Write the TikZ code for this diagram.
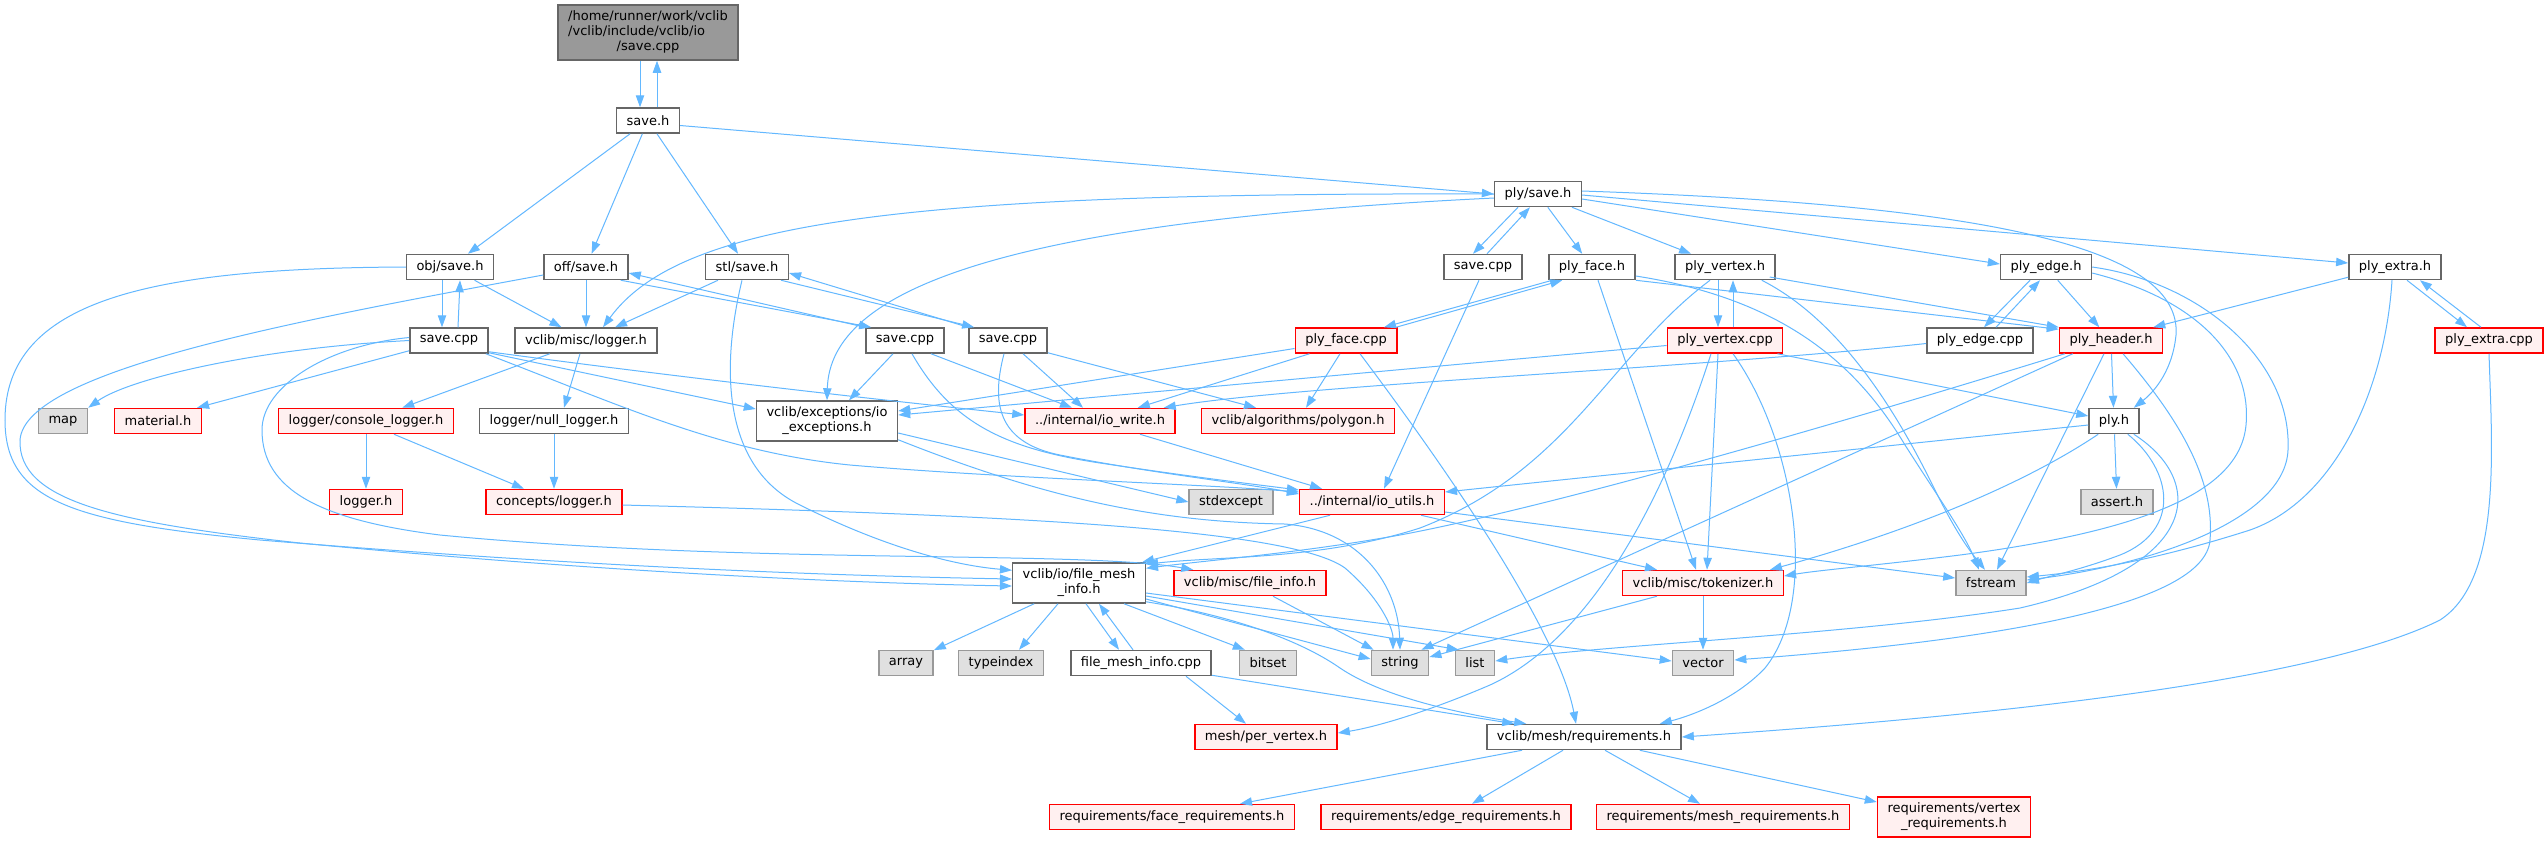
\documentclass[tikz,border=0pt]{standalone}
\usepackage{fontspec}
\setmainfont{DejaVu Sans}
\usepackage{xcolor}
\usepackage{tikz}
\usetikzlibrary{arrows.meta, calc}
\definecolor{edgeblue}{RGB}{99,184,255}
\definecolor{boxgray}{RGB}{102,102,102}
\definecolor{extgray}{RGB}{153,153,153}
\definecolor{extfill}{RGB}{224,224,224}
\definecolor{redfill}{RGB}{255,240,240}
\newcommand{\dgfont}{\fontsize{6.5}{7.5}\selectfont}
\tikzset{
  incbox/.style={
    rectangle, draw=boxgray, fill=white, line width=0.75pt,
    minimum height=12.5pt, inner xsep=5pt, inner ysep=0pt,
    font=\dgfont, align=center
  },
  incboxR/.style={incbox, draw=red, fill=redfill},
  incboxX/.style={incbox, draw=extgray, fill=extfill},
  incboxroot/.style={incbox, fill=extgray},
  incboxtwo/.style={minimum height=20pt},
  incarrow/.style={-{Triangle[length=6pt,width=4.2pt]}, edgeblue, line width=0.5pt}
}

\begin{document}
\begin{tikzpicture}[x=0.5pt, y=-0.5pt]
  \fill[white] (0,0) rectangle (2547,843);

  % Draw files, row by row
  \node[incboxroot, minimum height=27.5pt] (root) at (648,32.5) {\begin{tabular}{@{}l@{}}/home/runner/work/vclib\\/vclib/include/vclib/io\\\multicolumn{1}{@{}c@{}}{/save.cpp}\end{tabular}};
  \node[incbox] (saveh) at (648,120.5) {save.h};
  \node[incbox] (plysave) at (1538,194) {ply/save.h};

  \node[incbox] (objsave) at (450,267) {obj/save.h};
  \node[incbox] (offsave) at (586,267) {off/save.h};
  \node[incbox] (stlsave) at (747,267) {stl/save.h};
  \node[incbox] (plycpp) at (1483,267) {save.cpp};
  \node[incbox] (plyface) at (1592,267) {ply\_face.h};
  \node[incbox] (plyvertex) at (1725,267) {ply\_vertex.h};
  \node[incbox] (plyedge) at (2046,267) {ply\_edge.h};
  \node[incbox] (plyextra) at (2395,267) {ply\_extra.h};

  \node[incbox] (objcpp) at (449,340.5) {save.cpp};
  \node[incbox] (logger) at (586,340.5) {vclib/misc/logger.h};
  \node[incbox] (offcpp) at (905,340.5) {save.cpp};
  \node[incbox] (stlcpp) at (1008,340.5) {save.cpp};
  \node[incboxR] (plyfacecpp) at (1346,340.5) {ply\_face.cpp};
  \node[incboxR] (plyvertexcpp) at (1725,340.5) {ply\_vertex.cpp};
  \node[incbox] (plyedgecpp) at (1980,340.5) {ply\_edge.cpp};
  \node[incboxR] (plyheader) at (2111,340.5) {ply\_header.h};
  \node[incboxR] (plyextracpp) at (2489,340.5) {ply\_extra.cpp};

  \node[incboxX] (map) at (63,421) {map};
  \node[incboxR] (material) at (158,421) {material.h};
  \node[incboxR] (consolelog) at (366,421) {logger/console\_logger.h};
  \node[incbox] (nulllog) at (554,421) {logger/null\_logger.h};
  \node[incbox, incboxtwo] (exc) at (827,421) {vclib/exceptions/io\\\_exceptions.h};
  \node[incboxR] (iowrite) at (1100,421) {../internal/io\_write.h};
  \node[incboxR] (polygon) at (1298,421) {vclib/algorithms/polygon.h};
  \node[incbox] (plyh) at (2114,421) {ply.h};

  \node[incboxR] (loggerh) at (366,502) {logger.h};
  \node[incboxR] (conceptslog) at (554,502) {concepts/logger.h};
  \node[incboxX] (stdexcept) at (1231,502) {stdexcept};
  \node[incboxR] (ioutils) at (1372,502) {../internal/io\_utils.h};
  \node[incboxX] (asserth) at (2117,502) {assert.h};

  \node[incbox, incboxtwo] (fmi) at (1079,583) {vclib/io/file\_mesh\\\_info.h};
  \node[incboxR] (fileinfo) at (1250,583) {vclib/misc/file\_info.h};
  \node[incboxR] (tokenizer) at (1703,583) {vclib/misc/tokenizer.h};
  \node[incboxX] (fstream) at (1991,583) {fstream};

  \node[incboxX] (array) at (906,663) {array};
  \node[incboxX] (typeindex) at (1001,663) {typeindex};
  \node[incbox] (fmicpp) at (1141,663) {file\_mesh\_info.cpp};
  \node[incboxX] (bitset) at (1268,663) {bitset};
  \node[incboxX] (string) at (1400,663) {string};
  \node[incboxX] (list) at (1475,663) {list};
  \node[incboxX] (vector) at (1703,663) {vector};

  \node[incboxR] (pervertex) at (1266,737) {mesh/per\_vertex.h};
  \node[incbox] (requirements) at (1584,737) {vclib/mesh/requirements.h};

  \node[incboxR] (facereq) at (1172,817) {requirements/face\_requirements.h};
  \node[incboxR] (edgereq) at (1446,817) {requirements/edge\_requirements.h};
  \node[incboxR] (meshreq) at (1723,817) {requirements/mesh\_requirements.h};
  \node[incboxR, incboxtwo] (vertexreq) at (1954,817) {requirements/vertex\\\_requirements.h};

  % Draw save.cpp / save.h
  \draw[incarrow] ($(root.south)+(-8,0)$) -- ($(saveh.north)+(-8,0)$);
  \draw[incarrow] ($(saveh.north)+(9,0)$) -- ($(root.south)+(9,0)$);
  \draw[incarrow] (saveh) -- (objsave);
  \draw[incarrow] (saveh) -- (offsave);
  \draw[incarrow] (saveh) -- (stlsave);
  \draw[incarrow] ($(saveh.east)+(0,5)$) -- (plysave.west);

  % Draw obj
  \draw[incarrow] ($(objsave.south)+(-8,0)$) -- ($(objcpp.north)+(-7,0)$);
  \draw[incarrow] ($(objcpp.north)+(9,0)$) -- ($(objsave.south)+(10,0)$);
  \draw[incarrow] (objsave) -- (logger);
  \draw[incarrow] (objsave.west) .. controls (150,268) and (5,300) .. (5,420) .. controls (5,500) and (70,522) .. (260,540) .. controls (600,568) and (850,576) .. ($(fmi.west)+(0,-4)$);
  \draw[incarrow] (objcpp.west) .. controls (260,348) and (130,378) .. (map.north east);
  \draw[incarrow] ($(objcpp.south west)+(0,-3)$) -- ($(material.north east)+(-5,0)$);
  \draw[incarrow] ($(objcpp.west)+(0,-3)$) .. controls (330,345) and (262,385) .. (262,430) .. controls (262,490) and (320,520) .. (440,535) .. controls (750,565) and (1080,550) .. ($(fileinfo.north west)+(20,0)$);
  \draw[incarrow] ($(objcpp.south east)+(0,-1)$) -- ($(exc.west)+(0,-12)$);
  \draw[incarrow] ($(objcpp.south east)+(0,-2)$) .. controls (700,380) and (900,402) .. ($(iowrite.west)+(0,-6)$);
  \draw[incarrow] ($(objcpp.south east)+(-3,0)$) .. controls (620,405) and (720,452) .. (850,465) .. controls (1000,478) and (1200,484) .. ($(ioutils.west)+(0,-10)$);

  % Draw off
  \draw[incarrow] (offsave) -- (logger);
  \draw[incarrow] ($(offsave.south east)+(-8,0)$) -- ($(offcpp.north west)+(6,0)$);
  \draw[incarrow] (offcpp.north west) -- ($(offsave.east)+(0,6)$);
  \draw[incarrow] ($(offsave.west)+(0,8)$) .. controls (300,320) and (25,370) .. (20,440) .. controls (18,500) and (110,522) .. (300,543) .. controls (600,572) and (850,583) .. ($(fmi.west)+(0,3)$);
  \draw[incarrow] ($(offcpp.south)+(-12,0)$) -- ($(exc.north)+(22,0)$);
  \draw[incarrow] ($(offcpp.south)+(26,0)$) -- ($(iowrite.north)+(-28,0)$);
  \draw[incarrow] ($(offcpp.south)+(7,0)$) .. controls (950,420) and (1000,448) .. (1100,463) .. controls (1200,478) and (1260,485) .. ($(ioutils.west)+(0,-12)$);

  % Draw stl
  \draw[incarrow] (stlsave) -- (logger);
  \draw[incarrow] ($(stlsave.south east)+(-8,0)$) -- ($(stlcpp.north west)+(6,0)$);
  \draw[incarrow] (stlcpp.north west) -- ($(stlsave.east)+(0,6)$);
  \draw[incarrow] ($(stlsave.south)+(-5,0)$) .. controls (718,380) and (728,470) .. (800,505) .. controls (880,545) and (950,565) .. ($(fmi.north west)+(0,8)$);
  \draw[incarrow] ($(stlcpp.south)+(15,0)$) -- ($(iowrite.north)+(-17,0)$);
  \draw[incarrow] ($(stlcpp.south)+(-4,0)$) .. controls (992,400) and (995,442) .. (1060,455) .. controls (1150,473) and (1250,484) .. ($(ioutils.west)+(0,-8)$);
  \draw[incarrow] ($(stlcpp.south east)+(0,-1)$) -- ($(polygon.north)+(-42,0)$);

  % Draw ply/save.h
  \draw[incarrow] ($(plysave.south)+(-20,0)$) -- ($(plycpp.north)+(-10,0)$);
  \draw[incarrow] ($(plycpp.north)+(4,0)$) -- ($(plysave.south)+(-8,0)$);
  \draw[incarrow] (plysave) -- (plyface);
  \draw[incarrow] (plysave) -- (plyvertex);
  \draw[incarrow] ($(plysave.east)+(0,5)$) -- ($(plyedge.west)+(0,-3)$);
  \draw[incarrow] ($(plysave.east)+(0,1)$) -- ($(plyextra.west)+(0,-4)$);
  \draw[incarrow] ($(plysave.east)+(0,-3)$) .. controls (2000,205) and (2182,250) .. (2176,335) .. controls (2172,375) and (2150,395) .. ($(plyh.north east)+(-6,0)$);
  \draw[incarrow] (plysave.west) .. controls (900,192) and (680,222) .. ($(logger.north)+(17,0)$);
  \draw[incarrow] ($(plysave.west)+(0,4)$) .. controls (1000,222) and (830,290) .. (exc.north);
  \draw[incarrow] ($(plycpp.south)+(-4,0)$) -- ($(ioutils.north)+(12,0)$);

  % Draw ply_face
  \draw[incarrow] ($(plyface.south west)+(4,0)$) -- ($(plyfacecpp.north)+(38,0)$);
  \draw[incarrow] ($(plyfacecpp.north)+(50,0)$) -- ($(plyface.south west)+(14,0)$);
  \draw[incarrow] (plyface.south east) -- ($(plyheader.north west)+(0,2)$);
  \draw[incarrow] ($(plyface.south)+(6,0)$) -- ($(tokenizer.north)+(-7,0)$);
  \draw[incarrow] ($(plyface.east)+(0,9)$) .. controls (1790,300) and (1860,370) .. (1905,445) .. controls (1940,500) and (1965,535) .. ($(fstream.north)+(-12,0)$);
  \draw[incarrow] ($(plyfacecpp.west)+(0,8)$) -- ($(exc.east)+(0,-10)$);
  \draw[incarrow] ($(plyfacecpp.south west)+(15,0)$) -- ($(iowrite.north east)+(-38,0)$);
  \draw[incarrow] ($(plyfacecpp.south)+(-6,0)$) -- ($(polygon.north)+(8,0)$);
  \draw[incarrow] ($(plyfacecpp.south)+(14,0)$) .. controls (1470,500) and (1560,640) .. ($(requirements.north)+(-8,0)$);

  % Draw ply_vertex
  \draw[incarrow] ($(plyvertex.south)+(-7,0)$) -- ($(plyvertexcpp.north)+(-7,0)$);
  \draw[incarrow] ($(plyvertexcpp.north)+(8,0)$) -- ($(plyvertex.south)+(8,0)$);
  \draw[incarrow] ($(plyvertex.east)+(-6,10)$) -- (plyheader.north west);
  \draw[incarrow] ($(plyvertex.south east)+(-14,0)$) .. controls (1840,320) and (1895,410) .. (1930,480) .. controls (1952,525) and (1965,545) .. ($(fstream.north)+(-6,0)$);
  \draw[incarrow] ($(plyvertex.south)+(-15,0)$) .. controls (1610,355) and (1570,470) .. (1420,528) .. controls (1320,560) and (1220,556) .. ($(fmi.north east)+(0,2)$);
  \draw[incarrow] ($(plyvertexcpp.west)+(0,5)$) -- ($(exc.east)+(0,-6)$);
  \draw[incarrow] ($(plyvertexcpp.south east)+(-6,0)$) -- ($(plyh.west)+(0,-5)$);
  \draw[incarrow] ($(plyvertexcpp.south)+(-7,0)$) -- ($(tokenizer.north)+(4,0)$);
  \draw[incarrow] ($(plyvertexcpp.south)+(-14,0)$) .. controls (1680,450) and (1610,630) .. (1490,685) .. controls (1420,715) and (1370,728) .. ($(pervertex.east)+(0,-4)$);
  \draw[incarrow] ($(plyvertexcpp.south)+(8,0)$) .. controls (1795,440) and (1820,600) .. (1765,668) .. controls (1735,700) and (1690,716) .. ($(requirements.north east)+(-22,0)$);

  % Draw ply_edge
  \draw[incarrow] ($(plyedge.south)+(-16,0)$) -- ($(plyedgecpp.north)+(4,0)$);
  \draw[incarrow] ($(plyedgecpp.north)+(16,0)$) -- ($(plyedge.south)+(-6,0)$);
  \draw[incarrow] (plyedge) -- (plyheader);
  \draw[incarrow] ($(plyedge.east)+(0,6)$) .. controls (2200,300) and (2252,360) .. (2246,425) .. controls (2240,490) and (2150,530) .. (1960,555) .. controls (1880,565) and (1820,570) .. ($(tokenizer.east)+(0,-7)$);
  \draw[incarrow] (plyedge.east) .. controls (2200,282) and (2292,360) .. (2288,450) .. controls (2285,520) and (2150,565) .. ($(fstream.east)+(0,-3)$);
  \draw[incarrow] ($(plyedgecpp.west)+(0,3)$) .. controls (1700,368) and (1300,385) .. ($(iowrite.north east)+(-12,0)$);

  % Draw ply_header and ply.h
  \draw[incarrow] (plyheader) -- (plyh);
  \draw[incarrow] ($(plyheader.south)+(-7,0)$) -- ($(fstream.north)+(6,0)$);
  \draw[incarrow] ($(plyheader.south west)+(14,0)$) -- ($(string.north east)+(-8,0)$);
  \draw[incarrow] ($(plyheader.south west)+(6,0)$) .. controls (1850,420) and (1560,505) .. (1400,535) .. controls (1300,553) and (1210,560) .. ($(fmi.north east)+(0,6)$);
  \draw[incarrow] ($(plyheader.south)+(12,0)$) .. controls (2180,420) and (2215,480) .. (2210,540) .. controls (2205,605) and (2000,640) .. ($(vector.east)+(0,-3)$);
  \draw[incarrow] (plyh) -- (asserth);
  \draw[incarrow] ($(plyh.west)+(0,4)$) -- ($(ioutils.east)+(0,-10)$);
  \draw[incarrow] ($(plyh.south west)+(10,0)$) .. controls (2000,500) and (1860,545) .. ($(tokenizer.north east)+(-14,0)$);
  \draw[incarrow] ($(plyh.south east)+(-12,0)$) .. controls (2172,470) and (2182,530) .. (2120,555) .. controls (2080,570) and (2050,576) .. (fstream.east);
  \draw[incarrow] ($(plyh.south east)+(-6,0)$) .. controls (2205,480) and (2205,565) .. (2020,608) .. controls (1850,635) and (1600,645) .. ($(list.east)+(0,-2)$);

  % Draw ply_extra
  \draw[incarrow] ($(plyextra.south west)+(0,-3)$) -- ($(plyheader.north east)+(-10,0)$);
  \draw[incarrow] ($(plyextra.south)+(12,0)$) -- ($(plyextracpp.north)+(-22,0)$);
  \draw[incarrow] ($(plyextracpp.north)+(-8,0)$) -- ($(plyextra.south)+(25,0)$);
  \draw[incarrow] ($(plyextra.south)+(-3,0)$) .. controls (2385,390) and (2335,500) .. (2250,530) .. controls (2150,562) and (2080,572) .. ($(fstream.east)+(0,-6)$);
  \draw[incarrow] (plyextracpp.south) .. controls (2492,450) and (2502,580) .. (2440,620) .. controls (2300,690) and (1900,722) .. (requirements.east);

  % Draw logger
  \draw[incarrow] (logger) -- (consolelog);
  \draw[incarrow] ($(logger.south)+(-6,0)$) -- ($(nulllog.north)+(10,0)$);
  \draw[incarrow] (consolelog) -- (loggerh);
  \draw[incarrow] ($(consolelog.south)+(28,0)$) -- ($(conceptslog.north)+(-30,0)$);
  \draw[incarrow] (nulllog) -- (conceptslog);
  \draw[incarrow] ($(conceptslog.east)+(0,3)$) .. controls (1000,515) and (1290,528) .. (1345,568) .. controls (1380,598) and (1393,628) .. ($(string.north)+(-7,0)$);

  % Draw exceptions, io_write, io_utils
  \draw[incarrow] ($(exc.east)+(0,12)$) -- (stdexcept.west);
  \draw[incarrow] ($(exc.south east)+(0,-2)$) .. controls (1050,500) and (1160,522) .. (1285,524) .. controls (1360,530) and (1398,585) .. (string.north);
  \draw[incarrow] ($(iowrite.south)+(40,0)$) -- ($(ioutils.north)+(-50,0)$);
  \draw[incarrow] ($(ioutils.south)+(-42,0)$) -- ($(fmi.north east)+(-4,0)$);
  \draw[incarrow] ($(ioutils.south east)+(-24,0)$) -- ($(tokenizer.north west)+(35,0)$);
  \draw[incarrow] ($(ioutils.east)+(0,10)$) -- ($(fstream.west)+(0,-5)$);

  % Draw file_mesh_info
  \draw[incarrow] (fmi) -- (array);
  \draw[incarrow] ($(fmi.south)+(-21,0)$) -- ($(typeindex.north)+(18,0)$);
  \draw[incarrow] ($(fmi.south)+(7,0)$) -- ($(fmicpp.north)+(-22,0)$);
  \draw[incarrow] ($(fmicpp.north)+(-8,0)$) -- ($(fmi.south)+(20,0)$);
  \draw[incarrow] ($(fmi.south east)+(-22,0)$) -- ($(bitset.north west)+(6,0)$);
  \draw[incarrow] ($(fmi.east)+(0,16)$) -- ($(string.west)+(0,-4)$);
  \draw[incarrow] ($(fmi.east)+(0,13)$) -- ($(list.north west)+(4,0)$);
  \draw[incarrow] ($(fmi.east)+(0,10)$) -- ($(vector.west)+(0,-2)$);
  \draw[incarrow] ($(fmi.south east)+(0,-2)$) .. controls (1230,615) and (1300,640) .. (1340,668) .. controls (1380,695) and (1450,712) .. ($(requirements.north west)+(40,0)$);
  \draw[incarrow] ($(fmicpp.south)+(45,0)$) -- ($(pervertex.north)+(-20,0)$);
  \draw[incarrow] ($(fmicpp.south east)+(0,-1)$) -- ($(requirements.north west)+(28,0)$);
  \draw[incarrow] ($(fileinfo.south)+(23,0)$) -- ($(string.north west)+(3,0)$);
  \draw[incarrow] ($(tokenizer.south west)+(35,0)$) -- ($(string.east)+(0,-6)$);
  \draw[incarrow] (tokenizer) -- (vector);

  % Draw requirements
  \draw[incarrow] ($(requirements.south)+(-62,0)$) -- ($(facereq.north)+(68,0)$);
  \draw[incarrow] ($(requirements.south)+(-21,0)$) -- ($(edgereq.north)+(26,0)$);
  \draw[incarrow] ($(requirements.south)+(21,0)$) -- ($(meshreq.north)+(-23,0)$);
  \draw[incarrow] ($(requirements.south east)+(-42,0)$) -- ($(vertexreq.west)+(0,-15)$);
\end{tikzpicture}
\end{document}
